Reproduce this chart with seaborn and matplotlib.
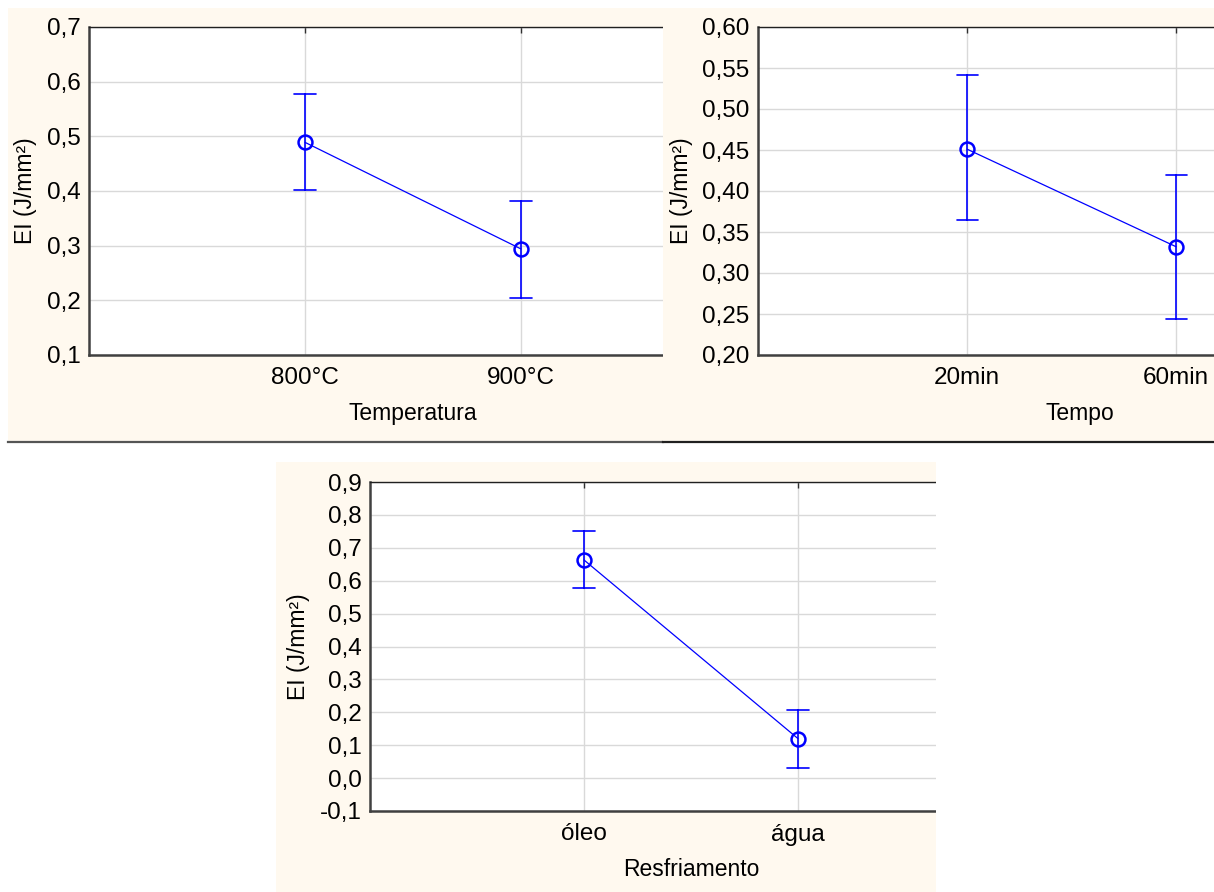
import numpy as np
import pandas as pd
import matplotlib
matplotlib.use("Agg")
import matplotlib.pyplot as plt
import seaborn as sns
from matplotlib.patches import Rectangle

# ---------------- data ----------------
temp_levels = ["800°C", "900°C"]
temp_mean = [0.489, 0.294]
temp_lo = [0.402, 0.205]
temp_hi = [0.577, 0.382]
temp_yticks = [0.1, 0.2, 0.3, 0.4, 0.5, 0.6, 0.7]
temp_yticklabels = ["0,1", "0,2", "0,3", "0,4", "0,5", "0,6", "0,7"]

tempo_levels = ["20min", "60min"]
tempo_mean = [0.451, 0.332]
tempo_lo = [0.365, 0.244]
tempo_hi = [0.541, 0.419]
tempo_yticks = [0.20, 0.25, 0.30, 0.35, 0.40, 0.45, 0.50, 0.55, 0.60]
tempo_yticklabels = ["0,20", "0,25", "0,30", "0,35", "0,40", "0,45", "0,50", "0,55", "0,60"]

resf_levels = ["óleo", "água"]
resf_mean = [0.663, 0.120]
resf_lo = [0.578, 0.032]
resf_hi = [0.751, 0.206]
resf_yticks = [-0.1, 0.0, 0.1, 0.2, 0.3, 0.4, 0.5, 0.6, 0.7, 0.8, 0.9]
resf_yticklabels = ["-0,1", "0,0", "0,1", "0,2", "0,3", "0,4", "0,5", "0,6", "0,7", "0,8", "0,9"]

y_label = "EI (J/mm²)"

# ---------------- style ----------------
sns.set_style("white")
plt.rcParams["font.family"] = ["Liberation Sans", "DejaVu Sans"]

BEIGE = "#FFF9EF"
BLUE = "#0000FF"
GRID = "#D9D9D9"
TICK_FS = 17.5
LABEL_FS = 16.5

W, H = 1214, 892
fig = plt.figure(figsize=(W / 100, H / 100), dpi=100)
fig.patch.set_facecolor("white")


def rect(x0, y0, x1, y1):
    return [x0 / W, 1 - y1 / H, (x1 - x0) / W, (y1 - y0) / H]


def panel(bg_box, ax_box, levels, mean, lo, hi, yticks, yticklabels, xlabel,
          bottom_line=True, line_color="#505050", xright=2.0):
    bg = fig.add_axes(rect(*bg_box))
    bg.set_facecolor(BEIGE)
    bg.set_xticks([])
    bg.set_yticks([])
    for s in ["top", "left", "right"]:
        bg.spines[s].set_visible(False)
    if bottom_line:
        bg.spines["bottom"].set_color(line_color)
        bg.spines["bottom"].set_linewidth(1.6)
    else:
        bg.spines["bottom"].set_visible(False)

    ax = fig.add_axes(rect(*ax_box))
    ax.set_facecolor("white")
    df = pd.DataFrame({
        "level": np.repeat(levels, 3),
        "EI": np.ravel(np.column_stack([lo, mean, hi])),
    })
    sns.pointplot(
        data=df, x="level", y="EI", order=levels,
        estimator=np.median, errorbar=lambda v: (v.min(), v.max()),
        color=BLUE, capsize=0.1, markers="o",
        err_kws={"linewidth": 1.2, "color": BLUE},
        linewidth=0.9, markersize=10, markeredgewidth=1.8,
        markerfacecolor="none", ax=ax,
    )
    ax.set_xlim(-1, xright)
    ax.set_ylim(yticks[0], yticks[-1])
    ax.set_yticks(yticks)
    ax.set_yticklabels(yticklabels)
    ax.grid(True, color=GRID, linewidth=1.0)
    ax.set_axisbelow(True)
    ax.tick_params(axis="both", direction="in", length=4, width=1,
                   color="#303030", labelcolor="black", labelsize=TICK_FS)
    ax.tick_params(axis="x", top=True, pad=9)
    ax.tick_params(axis="y", pad=6)
    for s in ["left", "bottom"]:
        ax.spines[s].set_color("#404040")
        ax.spines[s].set_linewidth(1.8)
    for s in ["top", "right"]:
        ax.spines[s].set_color("#202020")
        ax.spines[s].set_linewidth(1.0)
    ax.set_xlabel(xlabel, fontsize=LABEL_FS, labelpad=9, color="black")
    ax.set_ylabel(y_label, fontsize=LABEL_FS, labelpad=7, color="black")
    return ax


panel((8, 8, 663, 442), (89, 27, 737, 355), temp_levels, temp_mean, temp_lo, temp_hi,
      temp_yticks, temp_yticklabels, "Temperatura", line_color="#555555")
panel((663, 8, 1230, 442), (758, 27, 1402, 355), tempo_levels, tempo_mean, tempo_lo, tempo_hi,
      tempo_yticks, tempo_yticklabels, "Tempo", line_color="#202020", xright=2.08)
panel((276, 462, 936, 900), (370, 482, 1012, 811), resf_levels, resf_mean, resf_lo, resf_hi,
      resf_yticks, resf_yticklabels, "Resfriamento", bottom_line=False)

# the bottom panel is cropped at its right edge in the reference
fig.add_artist(Rectangle((936 / W, 0), 1, 1 - 452 / H, transform=fig.transFigure,
                         facecolor="white", edgecolor="none", zorder=10))

fig.savefig("out.png", dpi=100, facecolor="white")
